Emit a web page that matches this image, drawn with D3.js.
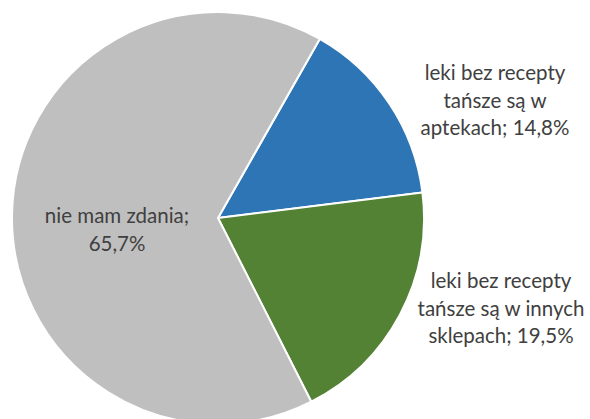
<!DOCTYPE html>
<html>
<head>
<meta charset="utf-8">
<script src="https://cdn.jsdelivr.net/npm/d3@7"></script>
<style>
  body { margin: 0; background: #fff; }
  svg { display: block; }
</style>
</head>
<body>
<svg id="main"></svg>
<script>
// data
const categories = ['leki bez recepty tańsze są w aptekach', 'leki bez recepty tańsze są w innych sklepach', 'nie mam zdania'];
const values = [14.8, 19.5, 65.7];
const labelLines = [
  ['leki bez recepty', 'tańsze są w', 'aptekach; 14,8%'],
  ['leki bez recepty', 'tańsze są w innych', 'sklepach; 19,5%'],
  ['nie mam zdania;', '65,7%']
];
const colors = ['#2e75b6', '#548235', '#bfbfbf'];

let width = 590,
  height = 419;

const cx = 218, cy = 218, radius = 206;
const firstSliceAngle = 29.6 * Math.PI / 180;

const svg = d3.select('#main')
  .attr('width', width)
  .attr('height', height);

const pie = d3.pie()
  .sort(null)
  .value(d => d.value)
  .startAngle(firstSliceAngle)
  .endAngle(firstSliceAngle + 2 * Math.PI);

const data = categories.map((c, i) => ({ name: c, value: values[i], lines: labelLines[i], color: colors[i] }));
const arcs = pie(data);

const arc = d3.arc()
  .innerRadius(0)
  .outerRadius(radius);

const g = svg.append('g')
  .attr('transform', `translate(${cx}, ${cy})`);

g.selectAll('.slice')
  .data(arcs)
  .enter()
  .append('path')
  .attr('class', 'slice')
  .attr('d', arc)
  .attr('fill', d => d.data.color)
  .attr('stroke', '#fff')
  .attr('stroke-width', 2)
  .attr('stroke-linejoin', 'round');

// label anchors (centre x, first baseline) relative to the pie
const labelPos = [
  [277, -138],
  [283, 70],
  [-101, 5]
];
const lineHeight = 27.7;

g.selectAll('.lbl')
  .data(arcs)
  .enter()
  .append('text')
  .attr('class', 'lbl')
  .attr('text-anchor', 'middle')
  .attr('font-family', 'Lato, "Open Sans", sans-serif')
  .attr('font-size', '20.5px')
  .attr('fill', '#404040')
  .each(function (d, i) {
    const t = d3.select(this);
    d.data.lines.forEach((line, k) => {
      t.append('tspan')
        .attr('x', labelPos[i][0])
        .attr('y', labelPos[i][1] + k * lineHeight)
        .text(line);
    });
  });
</script>
</body>
</html>
